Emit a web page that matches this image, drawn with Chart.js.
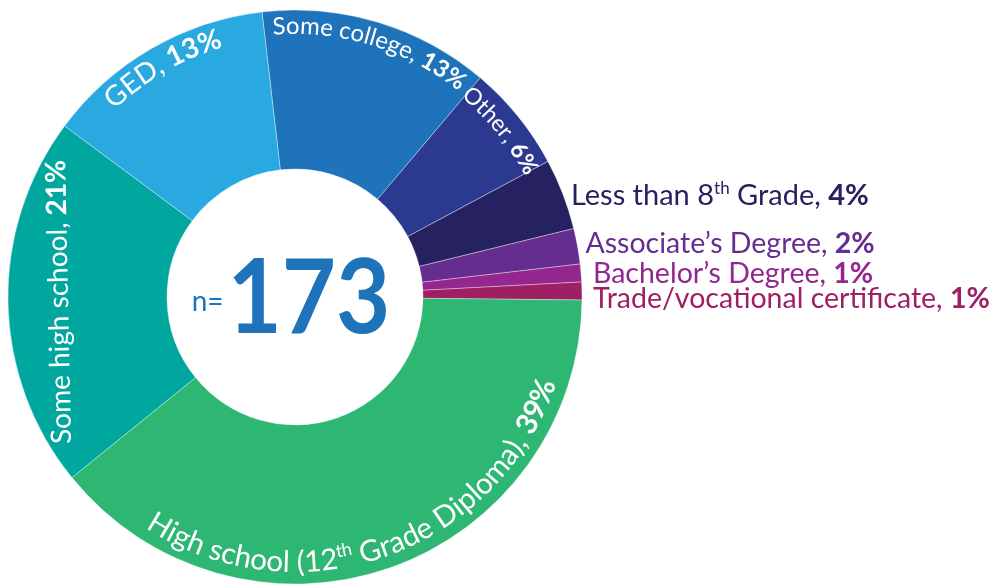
<!DOCTYPE html>
<html>
<head>
<meta charset="utf-8">
<script src="https://cdn.jsdelivr.net/npm/chart.js@4.4.1/dist/chart.umd.min.js"></script>
<style>
  html, body { margin: 0; padding: 0; background: #fff; }
  #wrap { width: 995px; height: 584px; }
</style>
</head>
<body>
<div id="wrap"><canvas id="eduChart" width="995" height="584"></canvas></div>
<script>
// data, clockwise from the top
const categories = [
  "Some college",
  "Other",
  "Less than 8th Grade",
  "Associate’s Degree",
  "Bachelor’s Degree",
  "Trade/vocational certificate",
  "High school (12th Grade Diploma)",
  "Some high school",
  "GED"
];
const percents = [13, 6, 4, 2, 1, 1, 39, 21, 13];
const sampleSize = 173;

const sliceColors = ["#1e73ba", "#2b3990", "#262262", "#662d91", "#93278f", "#9e1f63", "#2eb673", "#00a79e", "#29a9e0"];

// label placement: "out" = curved on the ring, tops outward; "in" = curved, tops inward;
// "line" = straight along the tangent; "side" = flat text right of the ring
const labelStyle = [
  { mode: "out", r: 263, size: 24 },
  { mode: "out", r: 260, size: 23 },
  { mode: "side", gap: 8, dy: 0, size: 29 },
  { mode: "side", gap: 8, dy: -3, size: 28.5 },
  { mode: "side", gap: 12, dy: 0, size: 28.5 },
  { mode: "side", gap: 11, dy: 7, size: 28.5 },
  { mode: "in", r: 275, size: 29.5 },
  { mode: "line", r: 227, size: 28 },
  { mode: "out", r: 260, size: 28 }
];

const FONT = "Lato, 'Open Sans', sans-serif";

// break a label into pieces: normal text, superscript "th", bold percent
function labelParts(name, pct) {
  const parts = [];
  name.split(/(?<=\d)(th)/).forEach(p => {
    if (p === "th") parts.push({ text: "th", sup: true });
    else if (p) parts.push({ text: p });
  });
  parts.push({ text: ", " });
  parts.push({ text: pct + "%", bold: true });
  return parts;
}

function partFont(part, size) {
  const s = part.sup ? Math.round(size * 0.6) : size;
  return (part.bold ? "bold " : "normal ") + s + "px " + FONT;
}

function partsWidth(ctx, parts, size) {
  let w = 0;
  parts.forEach(p => { ctx.font = partFont(p, size); w += ctx.measureText(p.text).width; });
  return w;
}

// text along an arc, centred on angle mid
function drawArcText(ctx, parts, cx, cy, r, mid, size, outward) {
  const total = partsWidth(ctx, parts, size);
  const dir = outward ? 1 : -1;
  let ang = mid - dir * (total / 2) / r;
  ctx.textAlign = "center";
  ctx.textBaseline = "alphabetic";
  parts.forEach(p => {
    ctx.font = partFont(p, size);
    const rise = p.sup ? size * 0.38 : 0;
    for (const ch of p.text) {
      const w = ctx.measureText(ch).width;
      const a = ang + dir * (w / 2) / r;
      ctx.save();
      ctx.translate(cx + r * Math.cos(a), cy + r * Math.sin(a));
      ctx.rotate(outward ? a + Math.PI / 2 : a - Math.PI / 2);
      ctx.fillText(ch, 0, -rise);
      ctx.restore();
      ang += dir * w / r;
    }
  });
}

function drawFlatText(ctx, parts, x, y, size) {
  ctx.textAlign = "left";
  ctx.textBaseline = "alphabetic";
  parts.forEach(p => {
    ctx.font = partFont(p, size);
    const rise = p.sup ? size * 0.38 : 0;
    ctx.fillText(p.text, x, y - rise);
    x += ctx.measureText(p.text).width;
  });
}

const ringLabels = {
  id: "ringLabels",
  afterDatasetsDraw(chart) {
    const ctx = chart.ctx;
    const meta = chart.getDatasetMeta(0);
    ctx.save();
    meta.data.forEach((arc, i) => {
      const { x, y, startAngle, endAngle, outerRadius } = arc.getProps(["x", "y", "startAngle", "endAngle", "outerRadius"], true);
      const mid = (startAngle + endAngle) / 2;
      const st = labelStyle[i];
      const parts = labelParts(categories[i], percents[i]);
      if (st.mode === "side") {
        ctx.fillStyle = sliceColors[i];
        const px = x + outerRadius * Math.cos(mid) + st.gap;
        const py = y + outerRadius * Math.sin(mid) + st.dy + st.size * 0.36;
        drawFlatText(ctx, parts, px, py, st.size);
      } else if (st.mode === "line") {
        ctx.fillStyle = "#ffffff";
        const w = partsWidth(ctx, parts, st.size);
        ctx.save();
        ctx.translate(x + st.r * Math.cos(mid), y + st.r * Math.sin(mid));
        ctx.rotate(mid + Math.PI / 2);
        drawFlatText(ctx, parts, -w / 2, 0, st.size);
        ctx.restore();
      } else {
        ctx.fillStyle = "#ffffff";
        drawArcText(ctx, parts, x, y, st.r, mid, st.size, st.mode === "out");
      }
    });

    // sample size in the hole
    const cx = meta.data[0].x, cy = meta.data[0].y;
    ctx.fillStyle = "#1e73ba";
    ctx.textAlign = "left";
    ctx.font = "normal 28px " + FONT;
    const nw = ctx.measureText("n=").width;
    ctx.font = "bold 104px " + FONT;
    const bw = ctx.measureText(String(sampleSize)).width;
    const left = cx - 4 - (nw + 4 + bw * 0.9) / 2;
    ctx.font = "normal 28px " + FONT;
    ctx.fillText("n=", left, cy + 14);
    ctx.save();
    ctx.translate(left + nw + 4, cy + 36);
    ctx.scale(0.9, 1);
    ctx.font = "bold 104px " + FONT;
    ctx.fillText(String(sampleSize), 0, 0);
    ctx.restore();
    ctx.restore();
  }
};

new Chart(document.getElementById("eduChart"), {
  type: "doughnut",
  data: {
    labels: categories,
    datasets: [{
      data: percents,
      backgroundColor: sliceColors,
      borderColor: "rgba(255,255,255,0.45)",
      borderWidth: 0.8
    }]
  },
  options: {
    responsive: false,
    animation: false,
    rotation: -6.6,
    cutout: "44.6%",
    radius: 287,
    layout: { padding: { left: 0, right: 405, top: 10, bottom: 0 } },
    plugins: {
      legend: { display: false },
      tooltip: { enabled: false }
    }
  },
  plugins: [ringLabels]
});
</script>
</body>
</html>
